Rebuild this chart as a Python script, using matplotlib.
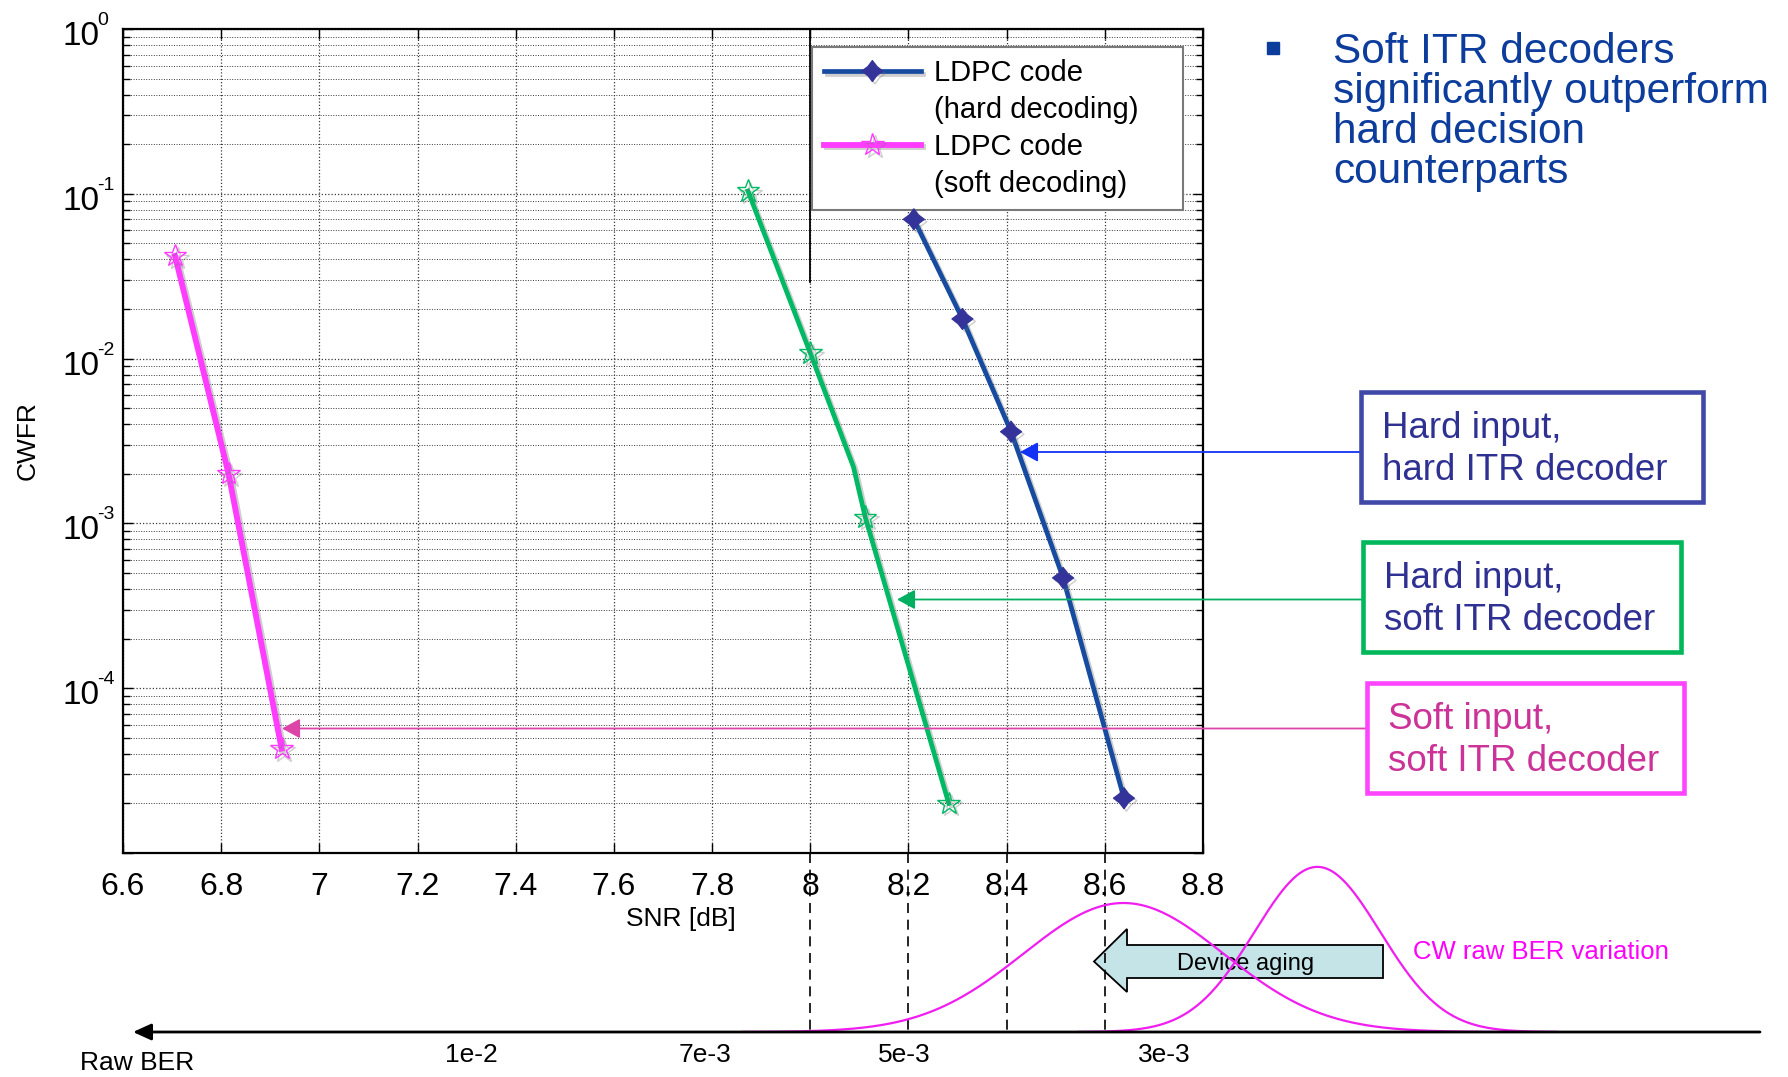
import matplotlib
matplotlib.use("Agg")
import numpy as np
import matplotlib.pyplot as plt
import matplotlib.patheffects as pe
from matplotlib import transforms
from matplotlib.lines import Line2D
from matplotlib.patches import Polygon, Rectangle
from matplotlib.path import Path

plt.rcParams['font.family'] = ['Liberation Sans', 'DejaVu Sans']

# ---------------------------------------------------------------- data
# Hard input, hard ITR decoder
hard_hard_snr = [8.211, 8.310, 8.409, 8.515, 8.639]
hard_hard_cwfr = [7.0e-2, 1.74e-2, 3.6e-3, 4.67e-4, 2.15e-5]

# Hard input, soft ITR decoder (third point is an unmarked bend of the curve)
hard_soft_snr = [7.873, 8.000, 8.088, 8.112, 8.282]
hard_soft_cwfr = [1.04e-1, 1.08e-2, 2.2e-3, 1.09e-3, 2.0e-5]
hard_soft_marked = [0, 1, 3, 4]

# Soft input, soft ITR decoder
soft_soft_snr = [6.706, 6.815, 6.923]
soft_soft_cwfr = [4.2e-2, 2.0e-3, 4.3e-5]

snr_ticks = [6.6, 6.8, 7.0, 7.2, 7.4, 7.6, 7.8, 8.0, 8.2, 8.4, 8.6, 8.8]
snr_ticklabels = ['6.6', '6.8', '7', '7.2', '7.4', '7.6', '7.8', '8', '8.2', '8.4', '8.6', '8.8']
cwfr_ticks = [1e-5, 1e-4, 1e-3, 1e-2, 1e-1, 1e0]
cwfr_labelled = [1e-4, 1e-3, 1e-2, 1e-1, 1e0]
cwfr_exponents = ['-4', '-3', '-2', '-1', '0']

# Raw BER scale under the SNR axis
ber_snr = [7.309, 7.786, 8.192, 8.721]
ber_labels = ['1e-2', '7e-3', '5e-3', '3e-3']
drop_snr = [8.0, 8.2, 8.4, 8.6]

# Codeword raw BER spread (aged device, fresh device): centre SNR, width, relative peak
spread_center = [8.638, 9.033]
spread_width = [0.204, 0.128]
spread_peak = [1.0, 1.28]

legend_labels = ['LDPC code', '(hard decoding)    ', 'LDPC code', '(soft decoding)']
box_lines = [('Hard input,', 'hard ITR decoder'),
             ('Hard input,', 'soft ITR decoder'),
             ('Soft input,', 'soft ITR decoder')]
bullet_lines = ['Soft ITR decoders', 'significantly outperform',
                'hard decision', 'counterparts']

# ---------------------------------------------------------------- styles
BLUE = '#164ba0'
NAVY = '#33339a'
GREEN = '#00b964'
MAGENTA = '#ff3cff'
GRID = '#3a3a3a'

W, H = 1788, 1077
fig = plt.figure(figsize=(W / 100, H / 100), dpi=100, facecolor='white')


def px_rect(left, top, right, bottom):
    return [left / W, 1 - bottom / H, (right - left) / W, (bottom - top) / H]


ax = fig.add_axes(px_rect(123, 29, 1203, 853))
ax.set_yscale('log')
ax.set_xlim(6.6, 8.8)
ax.set_ylim(1e-5, 1)
ax.set_xticks(snr_ticks)
ax.set_xticklabels(snr_ticklabels)
ax.set_yticks(cwfr_ticks)
ax.tick_params(which='both', direction='in', top=True, right=True, width=1.0,
               labelleft=False)
ax.tick_params(which='major', length=7)
ax.tick_params(which='minor', length=5)
ax.tick_params(axis='x', labelsize=23, pad=14)
for s in ax.spines.values():
    s.set_linewidth(1.6)
ax.grid(which='major', color=GRID, ls=(0, (1, 1.6)), lw=0.9)
ax.grid(which='minor', axis='y', color=GRID, ls=(0, (1, 1.6)), lw=0.7)
ax.set_axisbelow(True)

# decade labels: a large "10" with a small raised exponent
ylab_trans = ax.get_yaxis_transform()
base_trans = transforms.offset_copy(ylab_trans, fig=fig, y=-16, units='dots')
exp_trans = transforms.offset_copy(ylab_trans, fig=fig, y=4, units='dots')
for v, e in zip(cwfr_labelled, cwfr_exponents):
    ax.text(-0.0556, v, '10', transform=base_trans, fontsize=24,
            ha='left', va='baseline', clip_on=False)
    ax.text(-0.0235, v, e, transform=exp_trans, fontsize=14,
            ha='left', va='baseline', clip_on=False)

ax.set_xlabel('SNR [dB]', fontsize=19)
ax.xaxis.set_label_coords(0.517, -0.066)
ax.set_ylabel('CWFR', fontsize=19)
ax.yaxis.set_label_coords(-0.077, 0.5)

shadow = [pe.SimpleLineShadow(offset=(1.8, -1.8), shadow_color='0.45', alpha=0.35),
          pe.Normal()]
hard_marker = Path.unit_regular_star(4, 0.6)

ax.plot(hard_hard_snr, hard_hard_cwfr, color=BLUE, lw=3.4, marker=hard_marker,
        ms=15, mfc=NAVY, mec=NAVY, path_effects=shadow, zorder=4)
ax.plot(hard_soft_snr, hard_soft_cwfr, color=GREEN, lw=3.4, marker='*',
        markevery=hard_soft_marked, ms=17, mfc='none', mec=GREEN, mew=1.0,
        path_effects=shadow, zorder=4)
ax.plot(soft_soft_snr, soft_soft_cwfr, color=MAGENTA, lw=4.2, marker='*',
        ms=17, mfc='none', mec=MAGENTA, mew=1.0, path_effects=shadow, zorder=4)

# vertical rule at 8 dB running down from the top frame
ax.axvline(8.0, ymin=0.693, ymax=1.0, color='black', lw=1.3, zorder=3)

blank = Line2D([], [], color='none')
h_hard = Line2D([], [], color=BLUE, lw=3.4, marker=hard_marker, ms=15,
                mfc=NAVY, mec=NAVY, path_effects=shadow)
h_soft = Line2D([], [], color=MAGENTA, lw=4.2, marker='*', ms=17, mfc='none',
                mec=MAGENTA, mew=1.0, path_effects=shadow)
leg = ax.legend([h_hard, blank, h_soft, blank], legend_labels, loc='upper left',
                bbox_to_anchor=((812 - 123) / 1080, (853 - 47) / 824),
                borderaxespad=0, fontsize=21, numpoints=1, handlelength=3.3,
                handletextpad=0.45, labelspacing=0.3, borderpad=0.42,
                fancybox=False, framealpha=1, edgecolor='#7a7a7a')
leg.get_frame().set_linewidth(1.5)
leg.set_zorder(3.5)

# ---------------------------------------------------------------- overlay (pixel units)
ov = fig.add_axes([0, 0, 1, 1], zorder=10)
ov.set_xlim(0, W)
ov.set_ylim(H, 0)
ov.axis('off')
snr_px = transforms.blended_transform_factory(ax.transData, ov.transData)

axis_bottom_px = (1 - ax.get_position().y0) * H
ber_y = 1032
spread_scale = 129

# device-aging block arrow
aging = Polygon([(1383, 945), (1127, 945), (1127, 929), (1094, 961.5),
                 (1127, 992), (1127, 978), (1383, 978)], closed=True,
                facecolor='#c4e4e7', edgecolor='black', lw=1.3, zorder=1)
ov.add_patch(aging)
ov.text(1246, 970, 'Device aging', fontsize=17, ha='center', va='baseline', zorder=2)

for s in drop_snr:
    ov.plot([s, s], [axis_bottom_px, ber_y], transform=snr_px, color='black',
            lw=1.2, ls=(0, (6, 4)), zorder=3)

for c, w, p in zip(spread_center, spread_width, spread_peak):
    s = np.linspace(c - 3.8 * w, c + 3.8 * w, 400)
    ov.plot(s, ber_y - spread_scale * p * np.exp(-0.5 * ((s - c) / w) ** 2),
            transform=snr_px, color='#f01ef0', lw=1.6, zorder=3)
ov.text(1413, 959, 'CW raw BER variation', fontsize=18.5, color='#ff00ff',
        ha='left', va='baseline')

ov.annotate('', xy=(133, ber_y), xytext=(1760, ber_y),
            arrowprops=dict(arrowstyle='-|>,head_length=0.55,head_width=0.25',
                            mutation_scale=20, color='black', lw=2.0,
                            shrinkA=0, shrinkB=0))
ov.text(137, 1070, 'Raw BER', fontsize=19, ha='center', va='baseline')
for s, lbl in zip(ber_snr, ber_labels):
    ov.text(s, 1062, lbl, transform=snr_px, fontsize=19, ha='center', va='baseline')

# callout boxes and their pointers
boxes = [
    dict(rect=(1361, 392, 1703, 502), edge='#4149a8', text='#2e3192',
         baselines=(438, 480), tip=(1020, 452), arrow='#1432f5'),
    dict(rect=(1363, 542, 1681, 652), edge='#00b75a', text='#2e3192',
         baselines=(588, 630), tip=(897, 599.5), arrow='#00b060'),
    dict(rect=(1367, 683, 1684, 793), edge='#ff44ff', text='#cc3399',
         baselines=(729, 771), tip=(282, 728.5), arrow='#dd44a8'),
]
for b, lines in zip(boxes, box_lines):
    l, t, r, btm = b['rect']
    ov.annotate('', xy=b['tip'], xytext=(l, b['tip'][1]),
                arrowprops=dict(arrowstyle='-|>,head_length=0.55,head_width=0.3',
                                mutation_scale=20, color=b['arrow'], lw=1.3,
                                shrinkA=0, shrinkB=0), zorder=5)
    ov.add_patch(Rectangle((l, t), r - l, btm - t, facecolor='white',
                           edgecolor=b['edge'], lw=3.3, zorder=6))
    for yb, line in zip(b['baselines'], lines):
        ov.text(l + 21, yb, line, fontsize=26.5, color=b['text'], ha='left',
                va='baseline', zorder=7)

# bullet note
ov.plot([1273], [48], marker='s', ms=9, color='#0c3c9c', ls='none')
for i, line in enumerate(bullet_lines):
    ov.text(1333, 63 + 40 * i, line, fontsize=30.5, color='#0c3c9c',
            ha='left', va='baseline')

fig.savefig('out.png', dpi=100, facecolor='white')
